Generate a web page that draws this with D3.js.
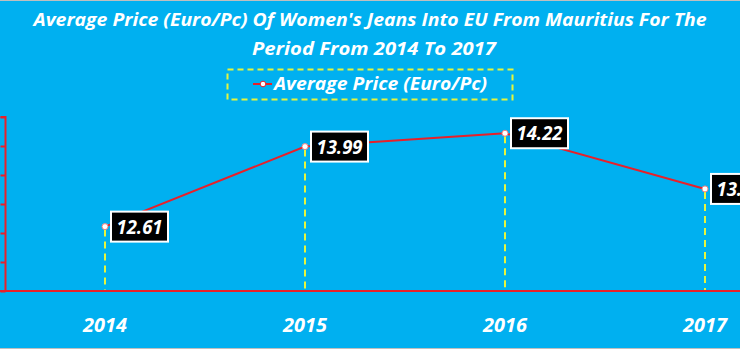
<!DOCTYPE html>
<html>
<head>
<meta charset="utf-8">
<script src="https://cdn.jsdelivr.net/npm/d3@7/dist/d3.min.js"></script>
<style>
  html, body { margin: 0; padding: 0; background: #ffffff; }
  svg { display: block; }
  text { font-family: "Open Sans", "Noto Sans", sans-serif; font-weight: bold; font-style: italic; fill: #ffffff; }
</style>
</head>
<body>
<svg id="chart" width="740" height="350"></svg>
<script>
const years = ["2014", "2015", "2016", "2017"];
const avgPrice = [12.61, 13.99, 14.22, 13.26];
const yTicks = [11.5, 12, 12.5, 13, 13.5, 14, 14.5];
const titleLines = ["Average Price (Euro/Pc) Of Women's Jeans Into EU From Mauritius For The", "Period From 2014 To 2017"];
const legendLabel = "Average Price (Euro/Pc)";

const W = 740, H = 350;
const svg = d3.select("#chart");

// background
svg.append("rect").attr("x", 0).attr("y", 0).attr("width", W).attr("height", 349).attr("fill", "#00B0F0");
svg.append("line").attr("x1", 0).attr("x2", W).attr("y1", 0.5).attr("y2", 0.5).attr("stroke", "#bfbfbf").attr("stroke-width", 1);
svg.append("line").attr("x1", 0).attr("x2", W).attr("y1", 348.5).attr("y2", 348.5).attr("stroke", "#bfbfbf").attr("stroke-width", 1);

const x = d3.scaleBand().domain(years).range([5, 805]).padding(0);
const y = d3.scaleLinear().domain([11.5, 14.5]).range([291, 117]);
const cx = d => x(d) + x.bandwidth() / 2;

// title
const tl = svg.append("g");
tl.append("text").attr("x", 370).attr("y", 26).attr("text-anchor", "middle")
  .attr("font-size", 17).attr("textLength", 673).attr("lengthAdjust", "spacingAndGlyphs").text(titleLines[0]);
tl.append("text").attr("x", 374).attr("y", 55).attr("text-anchor", "middle")
  .attr("font-size", 17).attr("textLength", 244).attr("lengthAdjust", "spacingAndGlyphs").text(titleLines[1]);

// legend
const lg = svg.append("g");
lg.append("rect").attr("x", 227.5).attr("y", 69.5).attr("width", 285).attr("height", 30)
  .attr("fill", "none").attr("stroke", "#E6F53C").attr("stroke-width", 2).attr("stroke-dasharray", "6,4");
lg.append("line").attr("x1", 253).attr("x2", 272).attr("y1", 84).attr("y2", 84).attr("stroke", "#E8202A").attr("stroke-width", 2);
lg.append("circle").attr("cx", 263).attr("cy", 84).attr("r", 2.8).attr("fill", "#ffffff").attr("stroke", "#E8202A").attr("stroke-width", 1);
lg.append("text").attr("x", 274).attr("y", 90).attr("font-size", 17)
  .attr("textLength", 213).attr("lengthAdjust", "spacingAndGlyphs").text(legendLabel);

// y axis
const yAxis = d3.axisLeft(y).tickValues(yTicks).tickSize(5).tickFormat("");
const ya = svg.append("g").attr("transform", "translate(5.5,0)").call(yAxis);
ya.selectAll("path, line").attr("stroke", "#E8202A").attr("stroke-width", 2);
ya.select("path.domain").attr("d", `M-5,${y(14.5)}H0V${y(11.5)}`);

// x axis baseline
const xAxis = d3.axisBottom(x).tickSize(0).tickFormat("");
const xa = svg.append("g").attr("transform", `translate(0,${y(11.5)})`).call(xAxis);
xa.select("path.domain").attr("d", `M0,0H${W}`).attr("stroke", "#E8202A").attr("stroke-width", 2);

// year labels
svg.append("g").selectAll("text").data(years).join("text")
  .attr("x", d => cx(d)).attr("y", 332).attr("text-anchor", "middle").attr("font-size", 19)
  .attr("textLength", 44).attr("lengthAdjust", "spacingAndGlyphs").text(d => d);

const data = years.map((d, i) => ({ year: d, v: avgPrice[i] }));

// drop lines
svg.append("g").selectAll("line").data(data).join("line")
  .attr("x1", d => cx(d.year)).attr("x2", d => cx(d.year))
  .attr("y1", d => y(d.v) + 3).attr("y2", y(11.5) - 1)
  .attr("stroke", "#E6F53C").attr("stroke-width", 2).attr("stroke-dasharray", "7,5");

// line
svg.append("path").datum(data)
  .attr("d", d3.line().x(d => cx(d.year)).y(d => y(d.v)))
  .attr("fill", "none").attr("stroke", "#E8202A").attr("stroke-width", 2);

// points
svg.append("g").selectAll("circle").data(data).join("circle")
  .attr("cx", d => cx(d.year)).attr("cy", d => y(d.v)).attr("r", 3)
  .attr("fill", "#ffffff").attr("stroke", "#F08080").attr("stroke-width", 1);

// data labels
const lb = svg.append("g").selectAll("g").data(data).join("g")
  .attr("transform", d => `translate(${cx(d.year) + 6},${y(d.v)})`);
lb.append("rect").attr("x", 0).attr("y", -15).attr("width", 57).attr("height", 30)
  .attr("fill", "#000000").attr("stroke", "#ffffff").attr("stroke-width", 2);
lb.append("text").attr("x", 28.5).attr("y", 7).attr("text-anchor", "middle").attr("font-size", 20)
  .attr("textLength", 46).attr("lengthAdjust", "spacingAndGlyphs").text(d => d.v.toFixed(2));
</script>
</body>
</html>
